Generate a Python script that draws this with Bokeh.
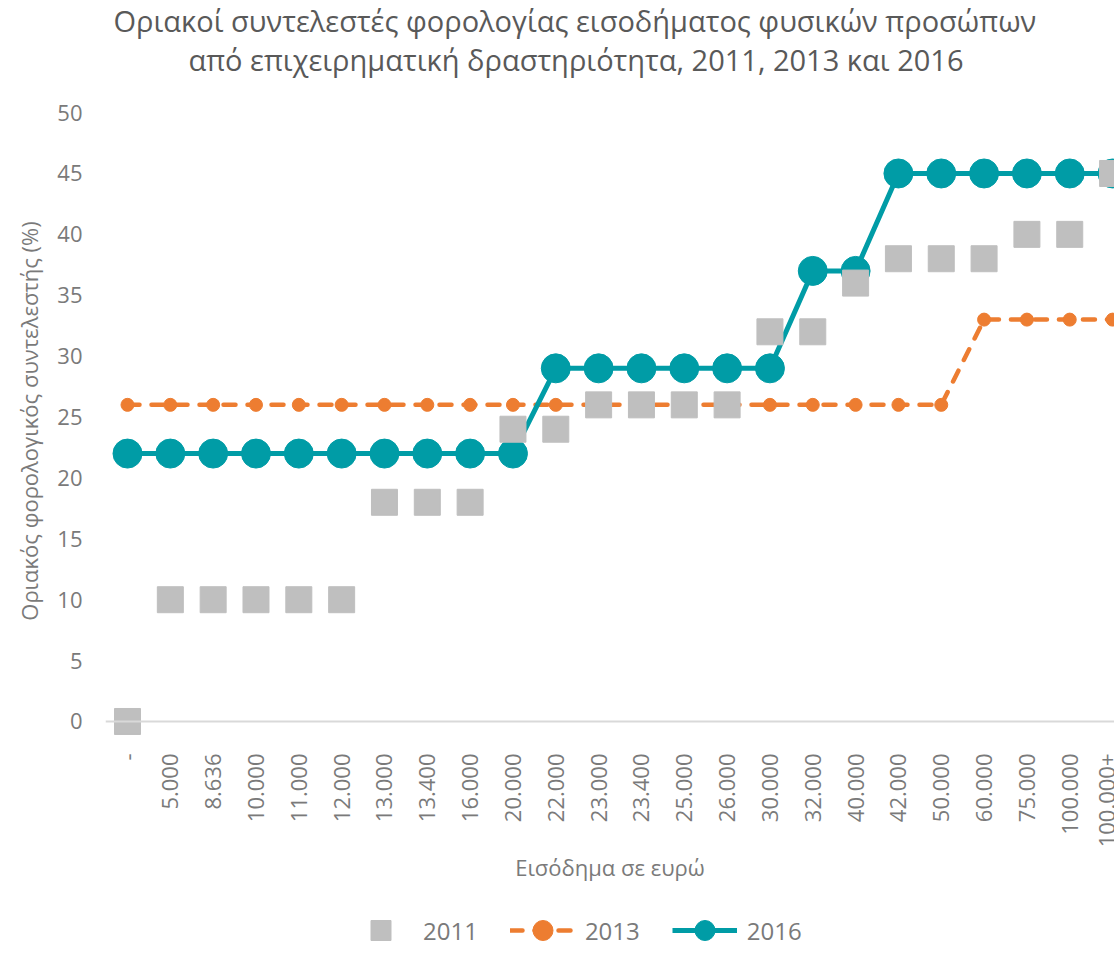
from math import pi
from bokeh.plotting import figure
from bokeh.layouts import column
from bokeh.models import Range1d, FixedTicker, Span, Legend, LegendItem, Title, ColumnDataSource
from bokeh.embed import file_html
from bokeh.resources import INLINE

categories = ["-", "5.000", "8.636", "10.000", "11.000", "12.000", "13.000", "13.400",
              "16.000", "20.000", "22.000", "23.000", "23.400", "25.000", "26.000",
              "30.000", "32.000", "40.000", "42.000", "50.000", "60.000", "75.000",
              "100.000", "100.000+"]
rates_2011 = [0, 10, 10, 10, 10, 10, 18, 18, 18, 24, 24, 26, 26, 26, 26, 32, 32, 36,
              38, 38, 38, 40, 40, 45]
rates_2013 = [26, 26, 26, 26, 26, 26, 26, 26, 26, 26, 26, 26, 26, 26, 26, 26, 26, 26,
              26, 26, 33, 33, 33, 33]
rates_2016 = [22, 22, 22, 22, 22, 22, 22, 22, 22, 22, 29, 29, 29, 29, 29, 29, 37, 37,
              45, 45, 45, 45, 45, 45]
y_ticks = [0, 5, 10, 15, 20, 25, 30, 35, 40, 45, 50]
series_names = ["2011", "2013", "2016"]

title_lines = ["Οριακοί συντελεστές φορολογίας εισοδήματος φυσικών προσώπων",
               "από επιχειρηματική δραστηριότητα, 2011, 2013 και 2016"]

FONT = "Open Sans"
GRAY_TXT = "#7a7a7a"
C2011 = "#bfbfbf"
C2013 = "#ed7d31"
C2016 = "#009ca6"

xs = list(range(len(categories)))
src = ColumnDataSource(dict(x=xs, y11=rates_2011, y13=rates_2013, y16=rates_2016))

p = figure(frame_width=1009, frame_height=629, output_backend="svg", toolbar_location=None,
           x_range=Range1d(-0.5137, 23.045), y_range=Range1d(-1.15, 50.5),
           min_border_left=105, min_border_right=0, min_border_top=98, min_border_bottom=0,
           outline_line_color=None, title=None)
p.xgrid.visible = False
p.ygrid.visible = False

# titles (last added is outermost); first one is a blank spacer
p.add_layout(Title(text=" ", text_font_size="1px", standoff=25), "above")
p.add_layout(Title(text=title_lines[1], align="left", offset=83, standoff=0,
                   text_font=FONT, text_font_size="29px", text_font_style="normal",
                   text_color="#595959"), "above")
p.add_layout(Title(text=title_lines[0], align="left", offset=8, standoff=-4,
                   text_font=FONT, text_font_size="29px", text_font_style="normal",
                   text_color="#595959"), "above")

# axes
p.xaxis.ticker = FixedTicker(ticks=xs)
p.xaxis.major_label_overrides = {i: c for i, c in enumerate(categories)}
p.xaxis.major_label_orientation = pi / 2
p.xaxis.axis_line_color = None
p.xaxis.major_tick_line_color = None
p.xaxis.minor_tick_line_color = None
p.xaxis.major_label_standoff = 12
p.xaxis.major_label_text_font = FONT
p.xaxis.major_label_text_font_size = "22px"
p.xaxis.major_label_text_color = GRAY_TXT
p.xaxis.axis_label = "Εισόδημα σε ευρώ"
p.xaxis.axis_label_text_font = FONT
p.xaxis.axis_label_text_font_size = "22px"
p.xaxis.axis_label_text_font_style = "normal"
p.xaxis.axis_label_text_color = GRAY_TXT
p.xaxis.axis_label_standoff = 2

p.yaxis.ticker = FixedTicker(ticks=y_ticks)
p.yaxis.axis_line_color = None
p.yaxis.major_tick_line_color = None
p.yaxis.minor_tick_line_color = None
p.yaxis.major_label_standoff = 17
p.yaxis.major_label_text_font = FONT
p.yaxis.major_label_text_font_size = "22px"
p.yaxis.major_label_text_color = GRAY_TXT
p.yaxis.axis_label = "Οριακός φορολογικός συντελεστής (%)"
p.yaxis.axis_label_text_font = FONT
p.yaxis.axis_label_text_font_size = "22px"
p.yaxis.axis_label_text_font_style = "normal"
p.yaxis.axis_label_text_color = GRAY_TXT
p.yaxis.axis_label_standoff = 10

p.add_layout(Span(location=0, dimension="width", line_color="#d9d9d9", line_width=2))

# series
style13 = dict(line_color=C2013, line_width=4.5, line_dash="12 12", line_cap="round")
style16 = dict(line_color=C2016, line_width=5)
p.line("x", "y13", source=src, **style13)
p.scatter("x", "y13", source=src, marker="circle", size=13, fill_color=C2013, line_color=C2013)
p.line("x", "y16", source=src, **style16)
p.scatter("x", "y16", source=src, marker="circle", size=29, fill_color=C2016, line_color=C2016)
p.scatter("x", "y11", source=src, marker="square", size=26, fill_color=C2011, line_color=C2011)

# legend strip (separate canvas below the chart; its proxy glyphs sit outside its range)
lg = figure(width=1114, height=62, output_backend="svg", toolbar_location=None,
            x_range=Range1d(0, 1), y_range=Range1d(0, 1), min_border=0,
            x_axis_location=None, y_axis_location=None, outline_line_color=None)
lg.xgrid.visible = False
lg.ygrid.visible = False
off = [-5, -4]
r11 = lg.scatter(x=off, y=off, marker="square", fill_color=C2011, line_color=C2011)
r13l = lg.line(x=off, y=off, **style13)
r13s = lg.scatter(x=off, y=off, marker="circle", fill_color=C2013, line_color=C2013)
r16l = lg.line(x=off, y=off, **style16)
r16s = lg.scatter(x=off, y=off, marker="circle", fill_color=C2016, line_color=C2016)

legend = Legend(items=[LegendItem(label=series_names[0], renderers=[r11]),
                       LegendItem(label=series_names[1], renderers=[r13l, r13s]),
                       LegendItem(label=series_names[2], renderers=[r16l, r16s])],
                location=(243, -8), orientation="horizontal",
                glyph_width=65, glyph_height=50, label_standoff=10,
                padding=0, margin=0, spacing=32,
                border_line_color=None, background_fill_alpha=0,
                label_text_font=FONT, label_text_font_size="24px",
                label_text_color=GRAY_TXT, label_height=50)
lg.add_layout(legend, "center")

layout = column(p, lg, spacing=0)
open("out.html", "w").write(file_html(layout, INLINE))
